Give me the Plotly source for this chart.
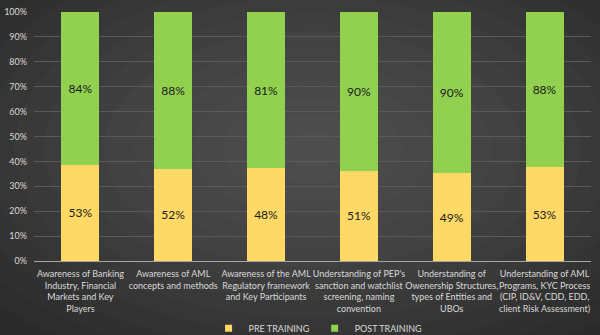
import plotly.graph_objects as go

# Training topics (axis labels, line-wrapped)
categories = [
    "Awareness of Banking<br>Industry, Financial<br>Markets and Key<br>Players",
    "Awareness of AML<br>concepts and methods",
    "Awareness of the AML<br>Regulatory framework<br>and Key Participants",
    "Understanding of PEP's<br>sanction and watchlist<br>screening, naming<br>convention",
    "Understanding of<br>Owenership Structures,<br>types of Entities and<br>UBOs",
    "Understanding of AML<br>Programs, KYC Process<br>(CIP, ID&V, CDD, EDD,<br>client Risk Assessment)",
]
pre_training = [53, 52, 48, 51, 49, 53]
post_training = [84, 88, 81, 90, 90, 88]
series_names = ["PRE TRAINING", "POST TRAINING"]
y_ticks = list(range(0, 101, 10))
y_tick_labels = [f"{v}%" for v in y_ticks]

YELLOW = "#FFD966"
GREEN = "#92D050"
FONT = "Lato, Open Sans, sans-serif"
LABEL_FONT = dict(family=FONT, size=12, color="#1a1a1a")

fig = go.Figure()
for name, vals, col in [(series_names[0], pre_training, YELLOW),
                        (series_names[1], post_training, GREEN)]:
    fig.add_trace(go.Bar(
        name=name, x=categories, y=vals, showlegend=False,
        marker=dict(color=col, line=dict(width=0)),
        text=[f"{v}%" for v in vals], textposition="inside",
        insidetextanchor="middle", textfont=LABEL_FONT, textangle=0,
    ))
    # small square legend key
    fig.add_trace(go.Scatter(
        name=name, x=[None], y=[None], mode="markers",
        marker=dict(symbol="square", size=7, color=col), showlegend=True,
    ))

# Soft radial glow behind the plot (concentric translucent ellipses)
shapes = []
n = 14
for i in range(n):
    f = 1 - i / n
    shapes.append(dict(
        type="circle", xref="paper", yref="paper", layer="below",
        x0=0.5 - 0.75 * f, x1=0.5 + 0.75 * f,
        y0=0.45 - 0.95 * f, y1=0.45 + 0.95 * f,
        fillcolor="rgba(255,255,255,0.014)", line=dict(width=0),
    ))

fig.update_layout(
    width=600, height=335,
    barmode="stack", barnorm="percent", bargap=0.59,
    paper_bgcolor="#2a2a2a", plot_bgcolor="rgba(0,0,0,0)",
    margin=dict(l=34, r=9, t=12, b=74, autoexpand=False),
    font=dict(family=FONT, color="#d9d9d9", size=9),
    shapes=shapes,
    showlegend=True,
    legend=dict(
        orientation="h", x=0.51, xanchor="center", y=-0.27, yanchor="middle",
        font=dict(size=9, color="#d9d9d9"), bgcolor="rgba(0,0,0,0)",
        itemwidth=30, traceorder="normal",
    ),
)
fig.update_xaxes(
    showgrid=False, showline=True, linecolor="#a6a6a6", linewidth=1,
    tickfont=dict(size=9, color="#d9d9d9"), ticks="", tickangle=0,
    automargin=False, ticklabelstandoff=4,
)
fig.update_yaxes(
    range=[0, 100], tickvals=y_ticks, ticktext=y_tick_labels,
    showgrid=True, gridcolor="#5a5a5a", gridwidth=1,
    zeroline=False, showline=False, ticks="", automargin=False,
    tickfont=dict(size=9, color="#d9d9d9"), ticklabelstandoff=6,
)

fig.write_html("out.html")
